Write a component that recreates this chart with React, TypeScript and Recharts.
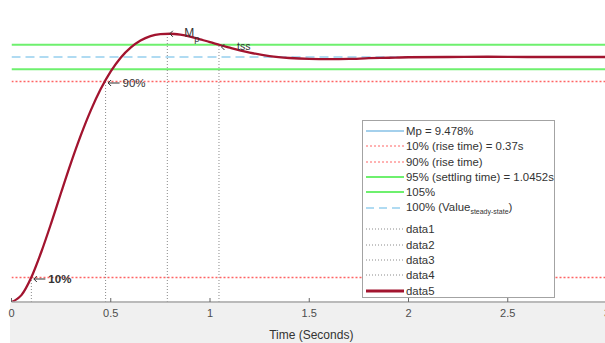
import { ComposedChart, Legend, Line, ReferenceDot, XAxis, YAxis } from "recharts";

// Step response of the closed loop (seconds / normalized output).
const timeS = [
  0, 0.05, 0.1, 0.15, 0.2, 0.25, 0.3, 0.35, 0.4, 0.45, 0.5, 0.55, 0.6, 0.65, 0.7, 0.75, 0.8, 0.85,
  0.9, 0.95, 1.0, 1.05, 1.1, 1.15, 1.2, 1.3, 1.4, 1.5, 1.6, 1.7, 1.8, 1.9, 2.0, 2.2, 2.4, 2.6, 2.8, 3.0,
];
const response = [
  0, 0.028, 0.101, 0.204, 0.322, 0.447, 0.569, 0.682, 0.783, 0.87, 0.941, 0.997, 1.038, 1.067, 1.085,
  1.093, 1.095, 1.091, 1.083, 1.072, 1.061, 1.049, 1.038, 1.027, 1.018, 1.004, 0.996, 0.992, 0.991,
  0.992, 0.995, 0.997, 0.999, 1.0, 1.001, 1.0, 1.0, 1.0,
];

// Reference levels (fraction of steady state)
const rise10 = 0.1;
const rise90 = 0.9;
const settleLow = 0.95;
const settleHigh = 1.05;
const steadyState = 1.0;

// Marker times and the response value there
const t10 = 0.1;
const t90 = 0.474;
const tPeak = 0.785;
const yPeak = 1.0948;
const tSettle = 1.0452;
const ySettle = 1.049;

const tEnd = 3;
const xTicks = [0, 0.5, 1, 1.5, 2, 2.5, 3];
const yTicks = [0, 0.2, 0.4, 0.6, 0.8, 1, 1.2];

const responseData = timeS.map((t, i) => ({ t, y: response[i] }));
const hLine = (v: number) => [
  { t: 0, y: v },
  { t: tEnd, y: v },
];
const vLine = (t: number, top: number) => [
  { t, y: 0 },
  { t, y: top },
];

const font = "'Liberation Sans', Arial, Helvetica, sans-serif";
const frame = "#a3a3a3";
const redDot = "#ff6464";
const green = "#6ef06e";
const blue = "#96cfee";
const grayDot = "#8a8a8a";
const curve = "#a2142f";
const ink = "#333";

type Sample = { color: string; width: number; dash?: string };
const legendRows: { label: React.ReactNode; sample: Sample; gapAfter?: number }[] = [
  { label: "Mp = 9.478%", sample: { color: "#86c1e6", width: 1.5 } },
  { label: "10% (rise time) = 0.37s", sample: { color: redDot, width: 1, dash: "2 2" } },
  { label: "90% (rise time)", sample: { color: redDot, width: 1, dash: "2 2" } },
  { label: "95% (settling time) = 1.0452s", sample: { color: green, width: 1.8 } },
  { label: "105%", sample: { color: green, width: 1.8 } },
  {
    label: (
      <>
        100% (Value<sub style={{ fontSize: 7, verticalAlign: -3 }}>steady-state</sub>)
      </>
    ),
    sample: { color: blue, width: 1.5, dash: "8 5" },
    gapAfter: 6.5,
  },
  { label: "data1", sample: { color: grayDot, width: 1, dash: "1 2" } },
  { label: "data2", sample: { color: grayDot, width: 1, dash: "1 2" } },
  { label: "data3", sample: { color: grayDot, width: 1, dash: "1 2" } },
  { label: "data4", sample: { color: grayDot, width: 1, dash: "1 2" } },
  { label: "data5", sample: { color: curve, width: 3 } },
];

function LegendBox() {
  return (
    <div
      style={{
        width: 193,
        height: 178,
        boxSizing: "border-box",
        border: `1.5px solid ${frame}`,
        background: "#fff",
        paddingTop: 2.5,
        fontFamily: font,
        fontSize: 11.4,
        color: ink,
      }}
    >
      {legendRows.map((row, i) => (
        <div
          key={i}
          style={{ display: "flex", alignItems: "center", height: 15.3, marginBottom: row.gapAfter ?? 0, whiteSpace: "nowrap" }}
        >
          <svg width={42} height={10} style={{ marginLeft: 1, flex: "none" }}>
            <line
              x1={2}
              x2={40}
              y1={5}
              y2={5}
              stroke={row.sample.color}
              strokeWidth={row.sample.width}
              strokeDasharray={row.sample.dash}
            />
          </svg>
          <span>{row.label}</span>
        </div>
      ))}
    </div>
  );
}

// "← label" annotation: arrow tip at the marked point, text to its right.
function ArrowNote({ cx, cy, text, bold }: { cx: number; cy: number; text: React.ReactNode; bold?: boolean }) {
  const y = cy + 1.5;
  return (
    <g>
      <line x1={cx + 2.5} x2={cx + 14} y1={y} y2={y} stroke={ink} strokeWidth={1} />
      <path d={`M${cx + 5.5},${y - 3} L${cx + 2.5},${y} L${cx + 5.5},${y + 3}`} fill="none" stroke={ink} strokeWidth={1} />
      <text x={cx + 17} y={cy + 5.5} fontSize={11.5} fontWeight={bold ? "bold" : "normal"} fill={ink} fontFamily={font}>
        {text}
      </text>
    </g>
  );
}

const lineBase = { dataKey: "y", dot: false, activeDot: false, isAnimationActive: false, legendType: "none" as const };

export default function App() {
  return (
    <div
      style={{
        position: "absolute",
        left: 0,
        top: 0,
        width: 605,
        height: 343,
        overflow: "hidden",
        background: "#fff",
        fontFamily: font,
      }}
    >
      <div style={{ position: "absolute", left: 10, top: 303, width: 595, height: 40, background: "#f0f0f0" }} />
      <div style={{ position: "absolute", left: 0, top: 0 }}>
        <ComposedChart width={607} height={343} margin={{ top: 8, right: 0, bottom: 0, left: 11.5 }}>
          <XAxis
            dataKey="t"
            type="number"
            domain={[0, tEnd]}
            ticks={xTicks}
            interval={0}
            allowDataOverflow
            height={41}
            tickSize={-4}
            tickMargin={11}
            axisLine={{ stroke: frame, strokeWidth: 1.5 }}
            tickLine={{ stroke: "#666" }}
            tick={{ fontSize: 11, fill: "#4d4d4d", fontFamily: font }}
            label={{
              value: "Time (Seconds)",
              position: "insideBottom",
              offset: 4,
              dx: 2,
              style: { fontSize: 12, fill: ink, fontFamily: font },
            }}
          />
          <XAxis
            xAxisId="top"
            orientation="top"
            type="number"
            domain={[0, tEnd]}
            ticks={xTicks}
            interval={0}
            height={0}
            tickSize={-4}
            tick={false}
            axisLine={{ stroke: frame, strokeWidth: 1.5 }}
            tickLine={{ stroke: "#666" }}
          />
          <YAxis
            type="number"
            domain={[0, 1.2]}
            ticks={yTicks}
            interval={0}
            allowDataOverflow
            width={0}
            tickSize={-4}
            tick={false}
            axisLine={{ stroke: frame, strokeWidth: 1.5 }}
            tickLine={{ stroke: "#666" }}
          />

          <Line {...lineBase} data={hLine(rise10)} type="linear" stroke={redDot} strokeWidth={1.3} strokeDasharray="2 2" />
          <Line {...lineBase} data={hLine(rise90)} type="linear" stroke={redDot} strokeWidth={1.3} strokeDasharray="2 2" />
          <Line {...lineBase} data={hLine(settleLow)} type="linear" stroke={green} strokeWidth={1.8} />
          <Line {...lineBase} data={hLine(settleHigh)} type="linear" stroke={green} strokeWidth={1.8} />
          <Line {...lineBase} data={hLine(steadyState)} type="linear" stroke={blue} strokeWidth={1.6} strokeDasharray="9 5" />
          <Line {...lineBase} data={vLine(t10, rise10)} type="linear" stroke={grayDot} strokeWidth={1} strokeDasharray="1 2" />
          <Line {...lineBase} data={vLine(t90, rise90)} type="linear" stroke={grayDot} strokeWidth={1} strokeDasharray="1 2" />
          <Line {...lineBase} data={vLine(tPeak, yPeak)} type="linear" stroke={grayDot} strokeWidth={1} strokeDasharray="1 2" />
          <Line {...lineBase} data={vLine(tSettle, ySettle)} type="linear" stroke={grayDot} strokeWidth={1} strokeDasharray="1 2" />
          <Line {...lineBase} data={responseData} type="monotone" stroke={curve} strokeWidth={2.3} />

          <ReferenceDot x={t90} y={rise90} r={0} shape={(p: any) => <ArrowNote cx={p.cx} cy={p.cy} text="90%" />} />
          <ReferenceDot x={t10} y={rise10} r={0} shape={(p: any) => <ArrowNote cx={p.cx} cy={p.cy} text="10%" bold />} />
          <ReferenceDot
            x={tPeak}
            y={yPeak}
            r={0}
            shape={(p: any) => (
              <g>
                <path d={`M${p.cx + 5.5},${p.cy - 3} L${p.cx + 2.5},${p.cy} L${p.cx + 5.5},${p.cy + 3}`} fill="none" stroke={ink} strokeWidth={1} />
                <text x={p.cx + 17} y={p.cy + 3} fontSize={12} fill={ink} fontFamily={font}>
                  M
                  <tspan fontSize={9} dy={5}>
                    p
                  </tspan>
                </text>
              </g>
            )}
          />
          <ReferenceDot
            x={tSettle}
            y={ySettle}
            r={0}
            shape={(p: any) => (
              <g>
                <path d={`M${p.cx + 5.5},${p.cy - 1} L${p.cx + 2.5},${p.cy + 2} L${p.cx + 5.5},${p.cy + 5}`} fill="none" stroke={ink} strokeWidth={1} />
                <text x={p.cx + 18} y={p.cy + 5} fontSize={10.5} fill={ink} fontFamily={font}>
                  tss
                </text>
              </g>
            )}
          />

          <Legend
            layout="vertical"
            align="center"
            verticalAlign="middle"
            content={() => <LegendBox />}
            wrapperStyle={{ left: 362, top: 120, width: 193, height: 178 }}
          />
        </ComposedChart>
      </div>
    </div>
  );
}
